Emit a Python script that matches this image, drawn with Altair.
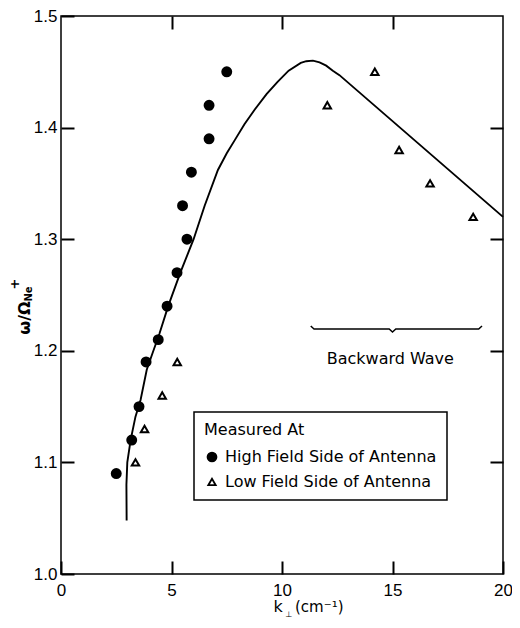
import altair as alt
import pandas as pd

# ---- data ----
high_k = [2.5, 3.2, 3.53, 3.85, 4.4, 4.8, 5.25, 5.7, 5.5, 5.9, 6.7, 6.7, 7.5]
high_w = [1.09, 1.12, 1.15, 1.19, 1.21, 1.24, 1.27, 1.30, 1.33, 1.36, 1.39, 1.42, 1.45]

low_k = [3.37, 3.78, 4.58, 5.26, 12.05, 14.2, 15.3, 16.7, 18.65]
low_w = [1.10, 1.13, 1.16, 1.19, 1.42, 1.45, 1.38, 1.35, 1.32]

curve_k = [2.97, 2.96, 3.0, 3.15, 3.37, 3.6, 3.88, 4.18, 4.45, 4.85, 5.4, 6.0, 6.5,
           7.1, 7.5, 7.87, 8.3, 8.76, 9.3, 9.8, 10.3, 10.85, 11.1, 11.4, 11.7, 12.0, 12.3, 12.6, 20.0]
curve_w = [1.048, 1.08, 1.10, 1.12, 1.141, 1.156, 1.183, 1.20, 1.215, 1.24, 1.27, 1.30, 1.33,
           1.362, 1.377, 1.389, 1.403, 1.416, 1.430, 1.441, 1.451, 1.458, 1.4595, 1.4600, 1.4585,
           1.4555, 1.451, 1.447, 1.32]

brace_k = [11.3, 11.45, 14.85, 15.0, 15.15, 18.9, 19.05]
brace_w = [1.2222, 1.2195, 1.2195, 1.2168, 1.2195, 1.2195, 1.2222]

x_ticks = [5, 10, 15]
y_ticks = [1.1, 1.2, 1.3, 1.4]
x_labels = [0, 5, 10, 15, 20]
y_labels = [1.0, 1.1, 1.2, 1.3, 1.4, 1.5]

series = ["High Field Side of Antenna", "Low Field Side of Antenna"]

W, H = 442, 558
FONT = "DejaVu Sans"
TFONT = "Liberation Sans"
TL = 13  # inward tick length (px)

pts = pd.DataFrame({
    "k": high_k + low_k,
    "w": high_w + low_w,
    "s": [series[0]] * len(high_k) + [series[1]] * len(low_k),
})
curve = pd.DataFrame({"k": curve_k, "w": curve_w, "i": list(range(len(curve_k)))})
brace = pd.DataFrame({"k": brace_k, "w": brace_w, "i": list(range(len(brace_k)))})
one = pd.DataFrame({"a": [0]})

xs = alt.Scale(domain=[0, 20], nice=False, zero=False)
ys = alt.Scale(domain=[1.0, 1.5], nice=False, zero=False)

common_axis = dict(title=None, domain=False, grid=False, ticks=True, tickSize=TL,
                   offset=-TL, tickColor="black", tickWidth=2, tickOpacity=1, zindex=2)

# bottom / left axes: labels outside, ticks pointing inward
xaxis = alt.Axis(orient="bottom", values=x_labels, labelFont=TFONT, labelFontSize=17,
                 labelColor="black", labelPadding=8, labelFlush=False, format="d",
                 **common_axis)
yaxis = alt.Axis(orient="left", values=y_labels, labelFont=TFONT, labelFontSize=17,
                 labelColor="black", labelPadding=4, labelFlush=False, format=".1f",
                 **common_axis)
# top / right axes: inward ticks only
xaxis_top = alt.Axis(orient="top", values=x_ticks, labels=False, **common_axis)
yaxis_right = alt.Axis(orient="right", values=y_ticks, labels=False, **common_axis)

line = alt.Chart(curve).mark_line(color="black", strokeWidth=1.9).encode(
    x=alt.X("k:Q", scale=xs, axis=xaxis),
    y=alt.Y("w:Q", scale=ys, axis=yaxis),
    order=alt.Order("i:Q"),
)

legend_sym = alt.Legend(
    title="Measured At",
    symbolStrokeColor="black", symbolStrokeWidth=1.8,
)
points = alt.Chart(pts).mark_point(strokeWidth=2, opacity=1, fillOpacity=1).encode(
    x=alt.X("k:Q", scale=xs, axis=xaxis_top),
    y=alt.Y("w:Q", scale=ys, axis=yaxis_right),
    shape=alt.Shape("s:N", scale=alt.Scale(domain=series, range=["circle", "triangle-up"]),
                    legend=legend_sym, title="Measured At"),
    fill=alt.Fill("s:N", scale=alt.Scale(domain=series, range=["black", "white"]),
                  legend=legend_sym, title="Measured At"),
    stroke=alt.Stroke("s:N", scale=alt.Scale(domain=series, range=["black", "black"]),
                      legend=legend_sym, title="Measured At"),
    size=alt.Size("s:N", scale=alt.Scale(domain=series, range=[80, 55]),
                  legend=legend_sym, title="Measured At"),
)

brace_line = alt.Chart(brace).mark_line(color="black", strokeWidth=1.5).encode(
    x=alt.X("k:Q", scale=xs, axis=None), y=alt.Y("w:Q", scale=ys, axis=None),
    order=alt.Order("i:Q"))

bw = alt.Chart(pd.DataFrame({"k": [14.9], "w": [1.193], "t": ["Backward  Wave"]})).mark_text(
    font=FONT, fontSize=16, color="black", align="center", baseline="middle").encode(
    x=alt.X("k:Q", scale=xs, axis=None), y=alt.Y("w:Q", scale=ys, axis=None), text="t:N")

# y-axis title  ω/Ω_Ne^+
yt1 = alt.Chart(one).mark_text(text="ω/Ω", font=FONT, fontSize=16, fontWeight="bold",
                               angle=270, align="center", baseline="middle", color="black"
                               ).encode(x=alt.value(-36), y=alt.value(302))
yt2 = alt.Chart(one).mark_text(text="Ne", font=FONT, fontSize=10, fontWeight="bold",
                               angle=270, align="center", baseline="middle", color="black"
                               ).encode(x=alt.value(-32), y=alt.value(278))
yt3 = alt.Chart(one).mark_text(text="+", font=FONT, fontSize=13, fontWeight="bold",
                               angle=270, align="center", baseline="middle", color="black"
                               ).encode(x=alt.value(-46), y=alt.value(268))

# x-axis title  k_⊥ (cm^-1)
xt1 = alt.Chart(one).mark_text(text="k", font=FONT, fontSize=16, align="center",
                               baseline="middle", color="black"
                               ).encode(x=alt.value(217), y=alt.value(591))
xt2 = alt.Chart(one).mark_text(text="⊥", font=FONT, fontSize=8, align="center",
                               baseline="middle", color="black"
                               ).encode(x=alt.value(228), y=alt.value(599))
xt3 = alt.Chart(one).mark_text(text="(cm⁻¹)", font=FONT, fontSize=15, align="left",
                               baseline="middle", color="black"
                               ).encode(x=alt.value(234), y=alt.value(591))

chart = alt.layer(
    line, points, brace_line, bw,
    yt1, yt2, yt3, xt1, xt2, xt3,
).resolve_axis(
    x="independent", y="independent"
).properties(
    width=W, height=H,
    autosize=alt.AutoSizeParams(type="none"),
    padding={"left": 53, "top": 8, "right": 9, "bottom": 46},
).configure_view(
    stroke="black", strokeWidth=1.5
).configure_legend(
    orient="none", legendX=133, legendY=396,
    strokeColor="black", strokeWidth=1.5, fillColor="white", padding=10,
    titleFont=FONT, titleFontSize=16, titleFontWeight="normal", titleColor="black",
    titlePadding=11,
    labelFont=FONT, labelFontSize=16, labelColor="black", labelOffset=5,
    rowPadding=8, labelLimit=400,
)

chart.save("out.html", embed_options={"renderer": "svg", "actions": False})
